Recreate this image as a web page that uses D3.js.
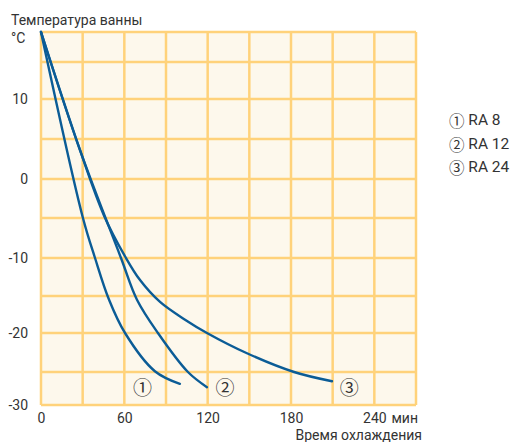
<!DOCTYPE html>
<html><head><meta charset="utf-8">
<script src="https://cdn.jsdelivr.net/npm/d3@7"></script>
<style>
body{margin:0;background:#fff}
svg{display:block}
text{font-family:Roboto,'Liberation Sans',Arial,sans-serif;fill:#333}
.circ{font-family:'Noto Sans CJK JP','DejaVu Sans',sans-serif}
</style>
</head><body><svg id="c" width="513" height="442"></svg>
<script>
// ---- data ----
const timeGrid = [0,30,60,90,120,150,180,210,240,270];
const timeLabels = [0,60,120,180,240];
const tempGrid = [20,15,10,5,0,-5,-10,-15,-20,-25,-30];
const tempLabels = [10,0,-10,-20,-30];
const seriesNames = ["RA 8","RA 12","RA 24"];
const seriesMarks = ["①","②","③"];
const ra8  = [[0,20],[30.2,-5],[38.9,-10],[49,-15.5],[60.5,-20],[82,-24.9],[100,-26.8]];
const ra12 = [[0,20],[28.1,3.6],[57.6,-10],[69.1,-15.5],[84.2,-20],[105.8,-25],[119.5,-27.3]];
const ra24 = [[0,20],[28.1,3.6],[45.4,-4.7],[61.2,-10],[71.3,-12.9],[85.7,-15.8],[103.7,-18.2],[119.5,-20],[148.3,-22.6],[182.2,-25],[209.5,-26.4]];
const markPos = [[73,-27.2],[132.5,-27.2],[222,-27.2]];

// ---- layout ----
const svg = d3.select("#c");
const x = d3.scaleLinear().domain([0,270]).range([41,416]);
// the printed grid is slightly uneven; map each grid line to where it is drawn
const y = d3.scaleLinear().domain(tempGrid).range([32,62,99,139,179,218,258,296,333,372,405]);

const gridCol = "#ffd27a";
svg.append("rect").attr("x",x(0)).attr("y",y(20)).attr("width",x(270)-x(0)).attr("height",y(-30)-y(20))
  .attr("fill","#fdf8ec");

const g = svg.append("g");
g.selectAll("line.v").data(timeGrid).join("line").attr("class","v")
  .attr("x1",d=>x(d)).attr("x2",d=>x(d)).attr("y1",y(20)).attr("y2",y(-30))
  .attr("stroke",gridCol).attr("stroke-width",2.5);
g.selectAll("line.h").data(tempGrid).join("line").attr("class","h")
  .attr("y1",d=>y(d)).attr("y2",d=>y(d)).attr("x1",x(0)).attr("x2",x(270))
  .attr("stroke",gridCol).attr("stroke-width",2.5);

// axes (labels only)
const ya = svg.append("g").attr("transform",`translate(${x(0)},0)`)
  .call(d3.axisLeft(y).tickValues(tempLabels).tickSize(0).tickPadding(13).tickFormat(d=>String(d)));
const xa = svg.append("g").attr("transform",`translate(0,${y(-30)})`)
  .call(d3.axisBottom(x).tickValues(timeLabels).tickSize(0).tickPadding(8));
[ya,xa].forEach(a=>{a.select(".domain").remove();a.selectAll("text").attr("font-size",14).attr("fill","#333").attr("font-family",null);});

// curves
const line = d3.line().x(d=>x(d[0])).y(d=>y(d[1])).curve(d3.curveCatmullRom.alpha(0.5));
svg.selectAll("path.s").data([ra8,ra12,ra24]).join("path").attr("class","s")
  .attr("d",line).attr("fill","none").attr("stroke","#0b5c96").attr("stroke-width",2.4)
  .attr("stroke-linecap","round").attr("stroke-linejoin","round");

// circled markers
svg.selectAll("text.m").data(markPos).join("text").attr("class","m circ")
  .attr("x",d=>x(d[0])).attr("y",d=>y(d[1])).attr("text-anchor","middle").attr("dominant-baseline","central")
  .attr("font-size",19).text((d,i)=>seriesMarks[i]);

// titles
svg.append("text").attr("x",11).attr("y",25).attr("font-size",14).text("Температура ванны");
svg.append("text").attr("x",11).attr("y",43).attr("font-size",14).text("°C");
svg.append("text").attr("x",418).attr("y",423).attr("font-size",14).attr("text-anchor","end").text("мин");
svg.append("text").attr("x",422).attr("y",440).attr("font-size",14).attr("text-anchor","end").text("Время охлаждения");

// legend
const lg = svg.selectAll("text.lg").data(seriesNames).join("text").attr("class","lg")
  .attr("x",449).attr("y",(d,i)=>120+i*23.5).attr("dominant-baseline","central").attr("font-size",15.5);
lg.append("tspan").attr("class","circ").text((d,i)=>seriesMarks[i]);
lg.append("tspan").text(d=>" "+d);
</script>
</body></html>
